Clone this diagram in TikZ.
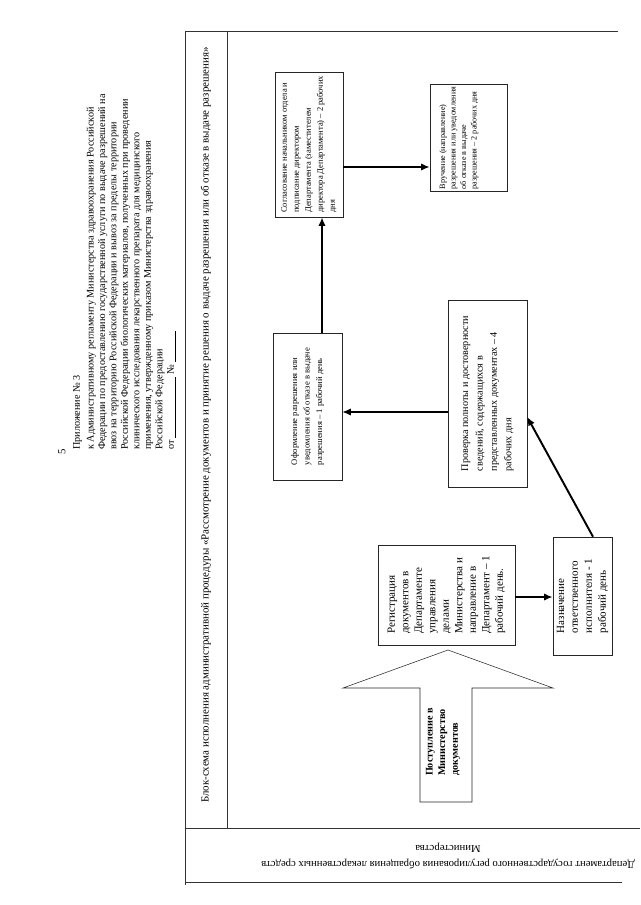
\documentclass[tikz,border=0pt]{standalone}
\usepackage{fontspec}
\setmainfont{Liberation Serif}
\usetikzlibrary{arrows.meta, positioning, calc}
\newcommand{\setfs}[2]{\fontsize{#1}{#2}\selectfont}

\begin{document}
\begin{tikzpicture}[x=0.0328cm, y=-0.0328cm,
    stepbox/.style={draw=black!85, line width=0.5pt, rotate=90, align=left, inner sep=2pt},
    flow/.style={-{Latex[length=2.8mm, width=2.4mm]}, line width=1.8pt},
    frame/.style={line width=0.5pt, black!80}]
  \useasboundingbox (0,0) rectangle (640,905);
  \clip (0,0) rectangle (640,905);

  % page number and header
  \node[rotate=90, font=\setfs{10}{12}] (pagenum) at (62,452) {5};
  \node[rotate=90, anchor=north west, align=left, inner sep=0pt, font=\setfs{9.5}{10.7}] (appendix) at (73,450)
    {Приложение № 3\\[2pt]
     к Административному регламенту Министерства здравоохранения Российской\\
     Федерации по предоставлению государственной услуги по выдаче разрешений на\\
     ввоз на территорию Российской Федерации и вывоз за пределы территории\\
     Российской Федерации биологических материалов, полученных при проведении\\
     клинического исследования лекарственного препарата для медицинского\\
     применения, утвержденному приказом Министерства здравоохранения\\
     Российской Федерации\\
     от \underline{\hspace{6em}} № \underline{\hspace{3em}}};

  % table frame
  \draw[frame] (618,31) -- (185,31) -- (185,885);
  \draw[frame] (227,31) -- (227,828);
  \draw[frame] (185,828) -- (640,828);
  \draw[frame] (185,882) -- (622,882);
  \node[rotate=90, font=\setfs{10.2}{12}] (title) at (206,425)
    {Блок-схема исполнения административной процедуры «Рассмотрение документов и принятие решения о выдаче разрешения или об отказе в выдаче разрешения»};
  \node[rotate=180, align=center, font=\setfs{10}{15}] (dept) at (448,856)
    {Департамент государственного регулирования обращения лекарственных средств\\ Министерства};

  % steps
  \node[stepbox, minimum width=4.76cm, minimum height=2.23cm, font=\setfs{7.9}{11.2}] (approve) at (309,144.5)
    {Согласование начальником отдела и\\ подписание директором\\ Департамента (заместителем\\ директора Департамента) -- 2 рабочих\\ дня};
  \node[stepbox, minimum width=4.82cm, minimum height=2.26cm, font=\setfs{8}{11.7}] (draft) at (307.5,406.5)
    {Оформление разрешения или\\ уведомления об отказе в выдаче\\ разрешения -- 1 рабочий день};
  \node[stepbox, minimum width=3.28cm, minimum height=2.53cm, font=\setfs{7.6}{9.8}] (deliver) at (468.5,138)
    {Вручение (направление)\\ разрешения или уведомления\\ об отказе в выдаче\\ разрешения -- 2 рабочих дня\\ \mbox{}\\ \mbox{}};
  \node[stepbox, minimum width=6.13cm, minimum height=2.59cm, font=\setfs{9.5}{13.5}] (check) at (487.5,393.5)
    {Проверка полноты и достоверности\\ сведений, содержащихся в\\ представленных документах -- 4\\ рабочих дня};
  \node[stepbox, minimum width=3.28cm, minimum height=4.49cm, font=\setfs{10.3}{12.6}] (register) at (446.5,595)
    {Регистрация\\ документов в\\ Департаменте\\ управления\\ делами\\ Министерства и\\ направление в\\ Департамент -- 1\\ рабочий день.};
  \node[stepbox, minimum width=3.87cm, minimum height=1.94cm, font=\setfs{10.3}{13}] (assign) at (582.5,596)
    {Назначение\\ ответственного\\ исполнителя - 1\\ рабочий день};

  % incoming documents
  \draw[line width=0.5pt, black!85] (448,650) -- (553,688) -- (472,688) -- (472,802) -- (420,802) -- (420,688) -- (343,688) -- cycle;
  \node[rotate=90, align=left, font=\bfseries\setfs{9.5}{11.7}] (intake) at (443,742)
    {Поступление в\\ Министерство\\ документов};

  % arrows
  \draw[flow] ($(draft.east)+(14.5,0)$) -- ($(approve.west)+(13,0)$);
  \draw[flow] ($(approve.south)+(0,22.5)$) coordinate (a2d) -- (a2d -| deliver.north);
  \draw[flow] ($(check.north)+(0,18.5)$) coordinate (c2d) -- (c2d -| draft.south);
  \draw[flow] ($(register.south)+(0,2)$) coordinate (r2a) -- (r2a -| assign.north);
  \draw[flow] ($(assign.east)+(10.5,0)$) -- ($(check.south)+(0,23.5)$);
\end{tikzpicture}
\end{document}
